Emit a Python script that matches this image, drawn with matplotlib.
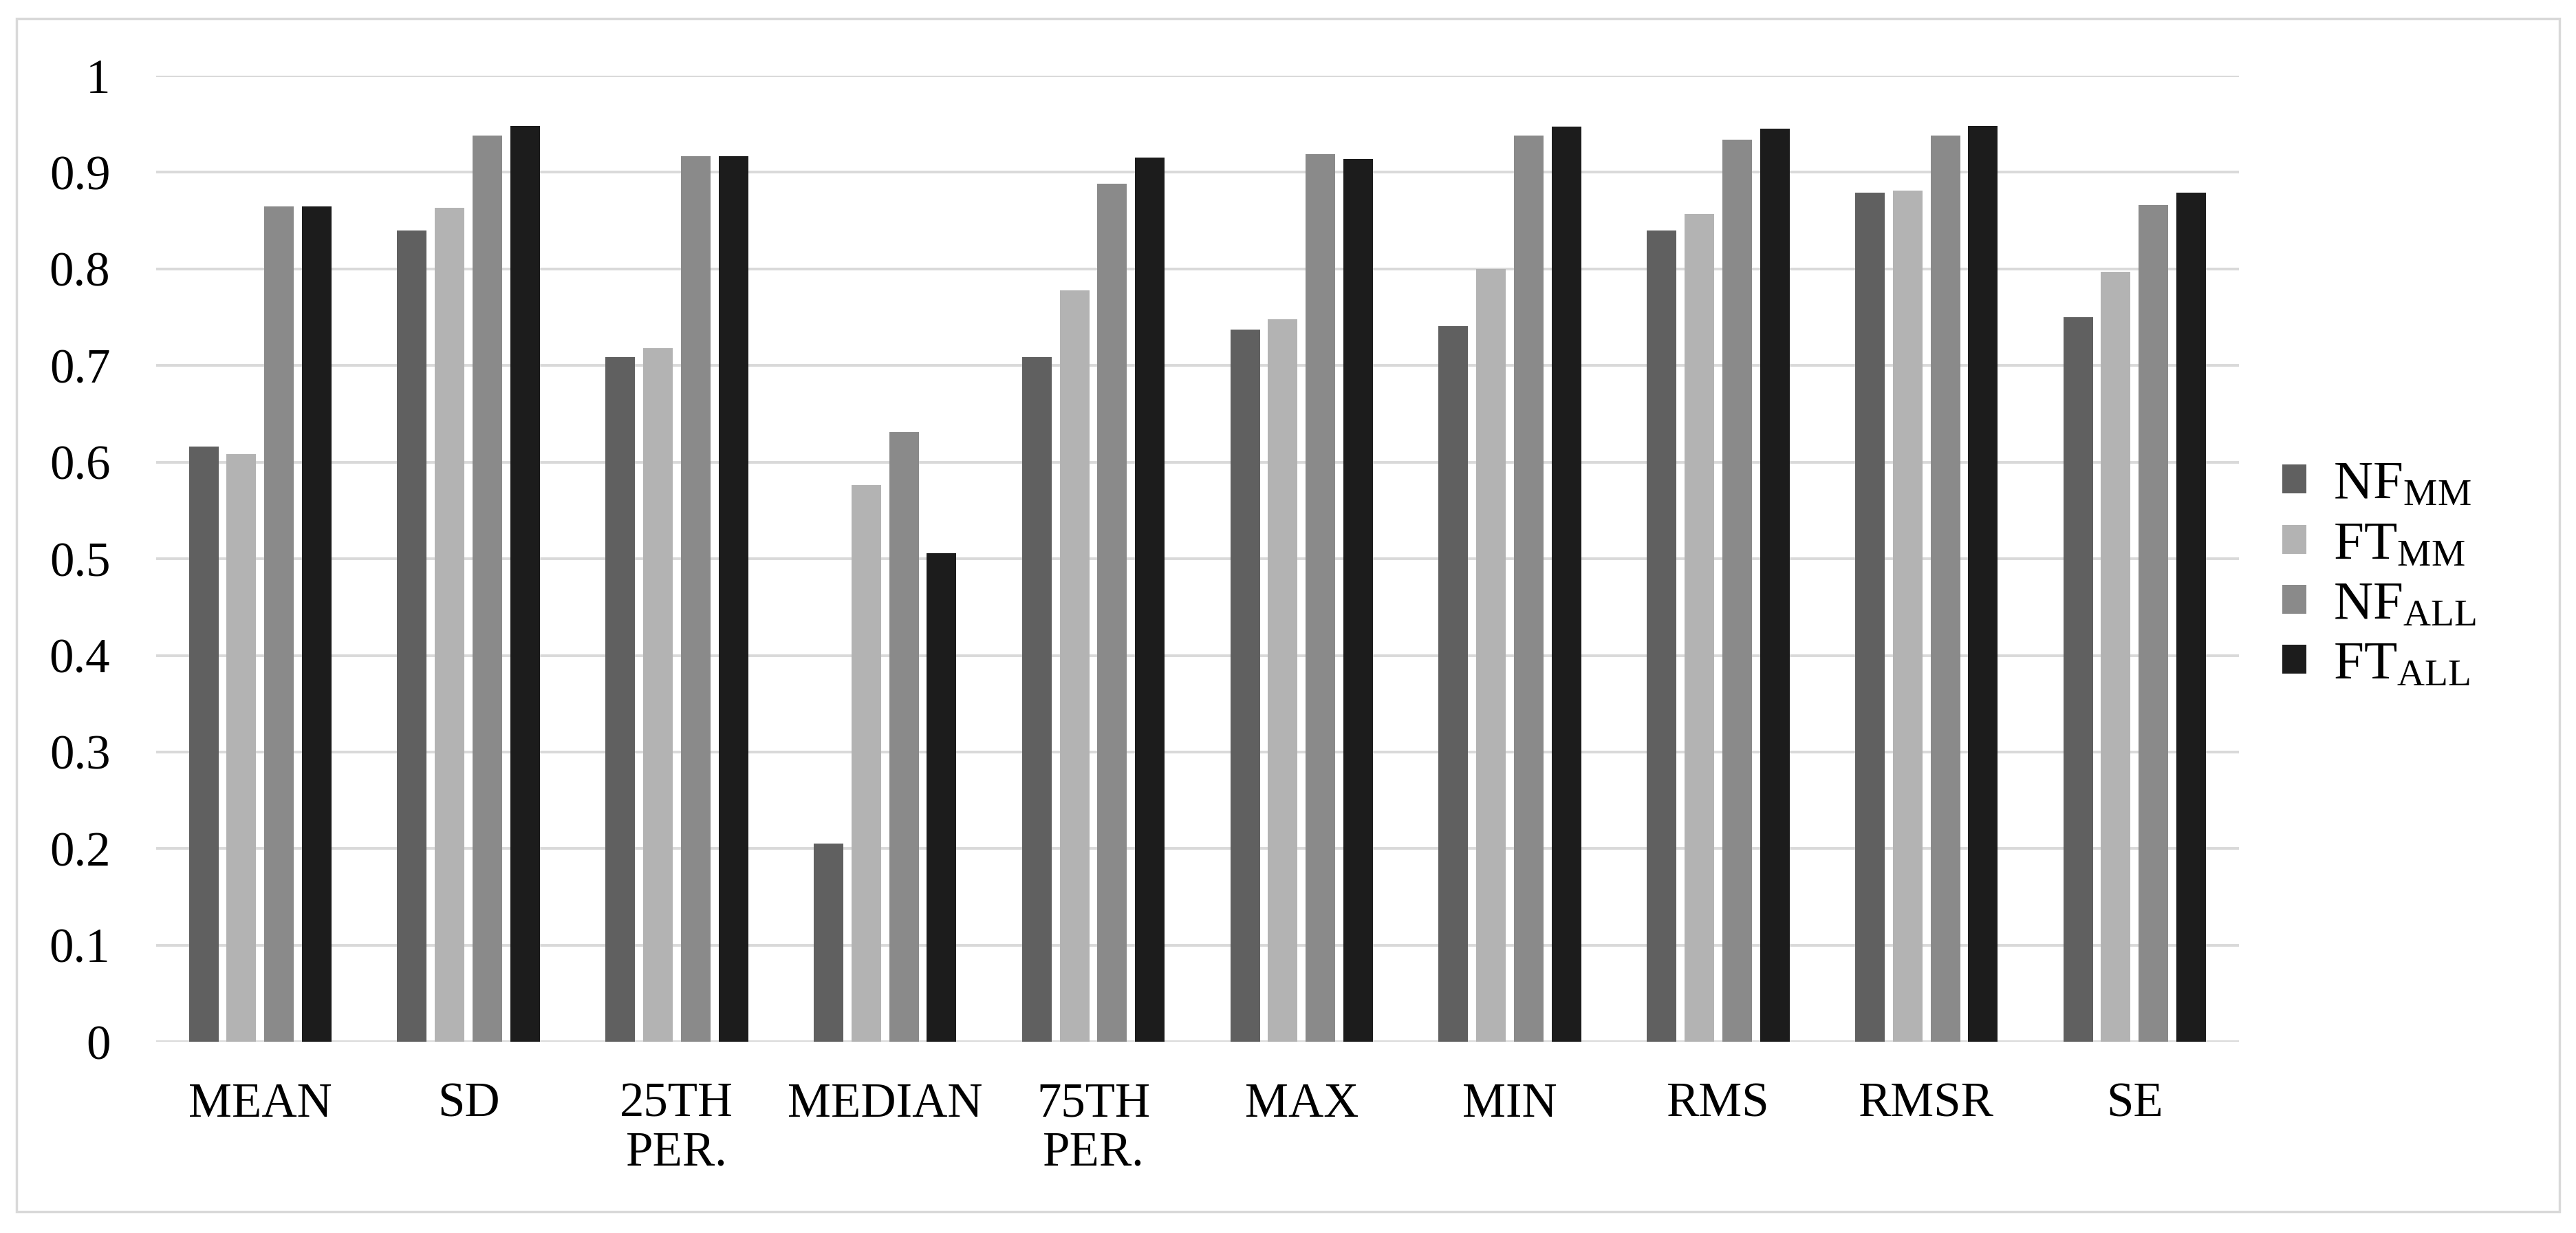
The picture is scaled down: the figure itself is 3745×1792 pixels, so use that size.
import matplotlib
matplotlib.use("Agg")
import matplotlib.pyplot as plt
import numpy as np
from matplotlib.patches import Rectangle, Patch

plt.rcParams['font.family'] = ['Liberation Serif', 'DejaVu Serif']
plt.rcParams['mathtext.fontset'] = 'custom'
plt.rcParams['mathtext.rm'] = 'Liberation Serif'
plt.rcParams['mathtext.it'] = 'Liberation Serif:italic'

# data
categories = ["MEAN", "SD", "25TH\nPER.", "MEDIAN", "75TH\nPER.", "MAX", "MIN", "RMS", "RMSR", "SE"]
series_names = [r"NF$_{\mathrm{MM}}$", r"FT$_{\mathrm{MM}}$", r"NF$_{\mathrm{ALL}}$", r"FT$_{\mathrm{ALL}}$"]
nf_mm = [0.616, 0.840, 0.709, 0.205, 0.709, 0.737, 0.741, 0.840, 0.879, 0.750]
ft_mm = [0.608, 0.863, 0.718, 0.576, 0.778, 0.748, 0.800, 0.857, 0.881, 0.797]
nf_all = [0.865, 0.938, 0.917, 0.631, 0.888, 0.919, 0.938, 0.934, 0.938, 0.866]
ft_all = [0.865, 0.948, 0.917, 0.506, 0.915, 0.914, 0.947, 0.945, 0.948, 0.879]
yticks = [0, 0.1, 0.2, 0.3, 0.4, 0.5, 0.6, 0.7, 0.8, 0.9, 1]
ytick_labels = ["0", "0.1", "0.2", "0.3", "0.4", "0.5", "0.6", "0.7", "0.8", "0.9", "1"]

colors = ["#606060", "#b3b3b3", "#8a8a8a", "#1c1c1c"]
grid_col = "#d9d9d9"

fig = plt.figure(figsize=(37.45, 17.92), dpi=100)
ax = fig.add_axes([0.0606, 0.155, 0.8085, 0.7836])

x = np.arange(len(categories))
width = 0.142
stride = 0.181
for i, (vals, col) in enumerate(zip([nf_mm, ft_mm, nf_all, ft_all], colors)):
    ax.bar(x + (i - 1.5) * stride, vals, width, color=col, zorder=3)

ax.set_xlim(-0.5, len(categories) - 0.5)
ax.set_ylim(0, 1)
ax.set_yticks(yticks)
ax.set_yticklabels(ytick_labels)
ax.set_xticks(x)
ax.set_xticklabels(categories, linespacing=1.12)
ax.tick_params(axis='both', length=0, labelsize=51)
ax.tick_params(axis='y', pad=48)
ax.tick_params(axis='x', pad=42)
ax.grid(axis='y', color=grid_col, linewidth=2.8, zorder=0)
for s in ax.spines.values():
    s.set_visible(False)

handles = [Patch(facecolor=c) for c in colors]
fig.legend(handles, series_names, loc='center left', bbox_to_anchor=(0.886, 0.533),
           frameon=False, fontsize=57, handlelength=0.44, handleheight=0.44,
           handletextpad=0.5, labelspacing=0.2, borderpad=0, borderaxespad=0)

# outer chart border
fig.patches.append(Rectangle((24 / 3745, 1 - 1761 / 1792), (3721 - 24) / 3745, (1761 - 27) / 1792,
                             transform=fig.transFigure, fill=False, edgecolor=grid_col, linewidth=2.5))

fig.savefig("out.png", dpi=100)
